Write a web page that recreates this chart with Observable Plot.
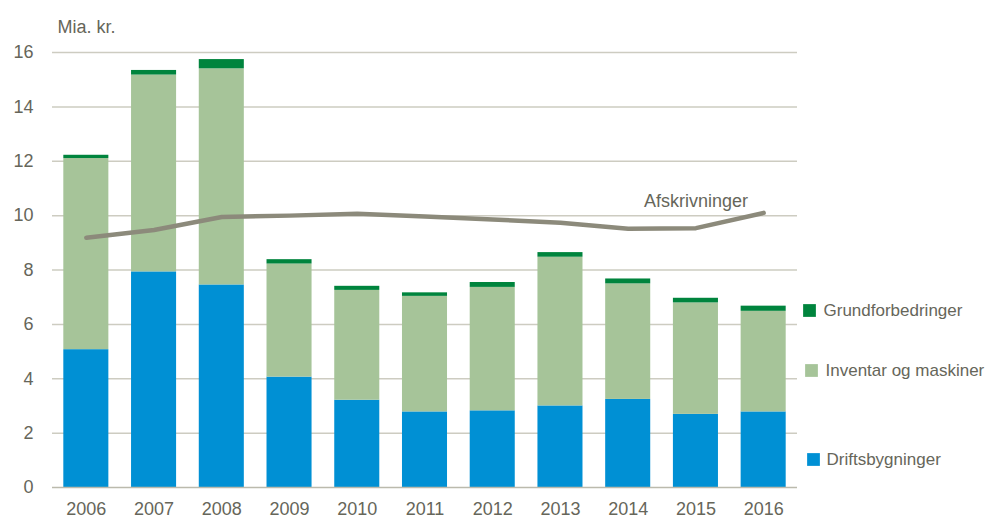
<!DOCTYPE html>
<html><head><meta charset="utf-8">
<script src="https://cdn.jsdelivr.net/npm/d3@7"></script>
<script src="https://cdn.jsdelivr.net/npm/@observablehq/plot@0.6"></script>
<style>body{margin:0;background:#fff;}</style>
</head><body><div id="chart"></div>
<script>
const years = ["2006","2007","2008","2009","2010","2011","2012","2013","2014","2015","2016"];
const driftsbygninger = [5.07, 7.93, 7.45, 4.06, 3.21, 2.78, 2.82, 3.00, 3.24, 2.69, 2.78];
const inventar = [7.03, 7.24, 7.95, 4.16, 4.04, 4.25, 4.54, 5.47, 4.25, 4.10, 3.70];
const grundforbedringer = [0.12, 0.17, 0.34, 0.16, 0.15, 0.13, 0.18, 0.17, 0.18, 0.17, 0.19];
const afskrivninger = [9.19, 9.47, 9.95, 10.00, 10.07, 9.97, 9.86, 9.74, 9.52, 9.54, 10.10];
const seriesNames = ["Driftsbygninger", "Inventar og maskiner", "Grundforbedringer"];
const seriesColors = ["#0090d4", "#a6c499", "#00843d"];
const yTicks = [0, 2, 4, 6, 8, 10, 12, 14, 16];
const unitLabel = "Mia. kr.";
const lineLabel = "Afskrivninger";

const seriesValues = [driftsbygninger, inventar, grundforbedringer];
const rows = [];
years.forEach((yr, i) => {
  seriesNames.forEach((s, k) => rows.push({year: yr, series: s, value: seriesValues[k][i]}));
});
const lineData = years.map((yr, i) => ({year: yr, value: afskrivninger[i]}));

const textColor = "#66665a";
const font = "'Liberation Sans', Arial, sans-serif";
// legend layout (pixel offsets from top-right of plot frame)
const legendLayout = [
  {name: "Grundforbedringer", color: seriesColors[2], dy: 258, sq: 12, tx: 26},
  {name: "Inventar og maskiner", color: seriesColors[1], dy: 318, sq: 14, tx: 28},
  {name: "Driftsbygninger", color: seriesColors[0], dy: 407, sq: 16, tx: 29}
];

const chart = Plot.plot({
  width: 991, height: 522,
  marginLeft: 52, marginRight: 194, marginTop: 52, marginBottom: 35,
  style: {fontFamily: font, fontSize: "18px", color: textColor, background: "#fff"},
  x: {domain: years, paddingInner: 0.335, paddingOuter: 0.167, round: false, label: null},
  y: {domain: [0, 16], label: null},
  color: {domain: seriesNames, range: seriesColors},
  marks: [
    Plot.ruleY(yTicks.filter(d => d > 0), {stroke: "#cdccc1", strokeWidth: 1.5}),
    Plot.barY(rows, {x: "year", y: "value", fill: "series", order: seriesNames}),
    Plot.ruleY([0], {stroke: "#bbbaad", strokeWidth: 1.5}),
    Plot.line(lineData, {x: "year", y: "value", stroke: "#8c8a7b", strokeWidth: 4.5}),
    Plot.text(lineData.filter(d => d.year === "2015"), {x: "year", y: "value", text: () => lineLabel, dy: -21, lineAnchor: "bottom", fontSize: 18, fill: textColor}),
    Plot.axisX({tickSize: 0, tickPadding: 15, fontSize: 18, fill: textColor, label: null}),
    Plot.axisY({ticks: yTicks, tickSize: 0, tickPadding: 19, fontSize: 18, fill: textColor, label: null}),
    Plot.text([unitLabel], {frameAnchor: "top-left", dx: 5, dy: -20, lineAnchor: "bottom", textAnchor: "start", fontSize: 18, fill: textColor}),
    ...legendLayout.flatMap(l => [
      Plot.dot([l.name], {frameAnchor: "top-right", dx: l.sq, dy: l.dy, symbol: "square", r: 7.2, fill: l.color}),
      Plot.text([l.name], {frameAnchor: "top-right", dx: l.tx, dy: l.dy, textAnchor: "start", lineAnchor: "middle", fontSize: 17, fill: textColor})
    ])
  ]
});
document.getElementById("chart").append(chart);
</script>
</body></html>
